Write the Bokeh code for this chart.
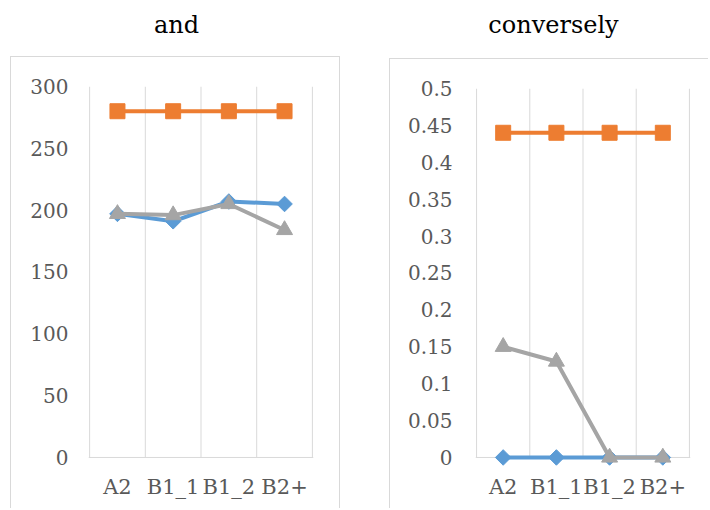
from bokeh.plotting import figure
from bokeh.layouts import row, column
from bokeh.models import FixedTicker, NumeralTickFormatter, Range1d, Label, Span
from bokeh.embed import file_html
from bokeh.resources import INLINE

categories = ["A2", "B1_1", "B1_2", "B2+"]

left_title = "and"
left_blue = [197, 191, 207, 205]
left_orange = [280, 280, 280, 280]
left_gray = [197, 196, 205, 184]
left_ticks = [0, 50, 100, 150, 200, 250, 300]

right_title = "conversely"
right_blue = [0, 0, 0, 0]
right_orange = [0.44, 0.44, 0.44, 0.44]
right_gray = [0.15, 0.13, 0, 0]
right_ticks = [0, 0.05, 0.1, 0.15, 0.2, 0.25, 0.3, 0.35, 0.4, 0.45, 0.5]

BLUE = "#5B9BD5"
ORANGE = "#ED7D31"
GRAY = "#A5A5A5"
GRID = "#D9D9D9"
LABEL = "#595959"
FONT = "DejaVu Serif"


def title_fig(text, col_x, width, height, mbl, mbr, center_x, baseline_from_top):
    # the column aligns this figure's frame with the chart frame below it,
    # so the x range is expressed in page pixels of that frame
    t = figure(width=width, height=height,
               x_range=Range1d(col_x + mbl, col_x + width - mbr), y_range=Range1d(0, height),
               x_axis_location=None, y_axis_location=None, toolbar_location=None,
               output_backend="svg", min_border=0, min_border_left=0, min_border_right=0,
               min_border_top=0, min_border_bottom=0, outline_line_color=None, title=None)
    t.grid.visible = False
    t.add_layout(Label(x=center_x, y=height - baseline_from_top, text=text,
                       text_align="center", text_baseline="alphabetic",
                       text_font=FONT, text_font_size="24px", text_color="black"))
    return t


def chart(blue, orange, gray, ticks, ymax, pad, width, height, mbl, mbr, mbt, mbb,
          margin, styles, ystandoff, fmt=None):
    n = len(categories)
    xs = [i + 0.5 for i in range(n)]
    p = figure(width=width, height=height,
               x_range=Range1d(-0.02, n + 0.02), y_range=Range1d(-pad, ymax),
               toolbar_location=None, output_backend="svg",
               min_border_left=mbl, min_border_right=mbr,
               min_border_top=mbt, min_border_bottom=mbb,
               outline_line_color=None, margin=margin, styles=styles)
    p.xgrid.visible = False
    p.ygrid.visible = False

    bounds = list(range(n + 1))
    p.segment(x0=bounds, y0=[0] * len(bounds), x1=bounds, y1=[ymax] * len(bounds),
              line_color=GRID, line_width=1)
    p.add_layout(Span(location=0, dimension="width", line_color=GRID, line_width=1,
                      level="underlay"))

    p.line(xs, blue, line_color=BLUE, line_width=4)
    p.scatter(xs, blue, marker="square", angle=0.785398, size=11,
              fill_color=BLUE, line_color=BLUE)
    p.line(xs, orange, line_color=ORANGE, line_width=4)
    p.scatter(xs, orange, marker="square", size=15, fill_color=ORANGE, line_color=ORANGE)
    p.line(xs, gray, line_color=GRAY, line_width=4)
    p.scatter(xs, gray, marker="triangle", size=16, fill_color=GRAY, line_color=GRAY)

    p.xaxis.ticker = FixedTicker(ticks=xs)
    p.xaxis.major_label_overrides = {x: c for x, c in zip(xs, categories)}
    p.xaxis.axis_line_color = None
    p.xaxis.major_tick_line_color = None
    p.xaxis.minor_tick_line_color = None
    p.xaxis.major_tick_out = 0
    p.xaxis.major_label_standoff = 7
    p.xaxis.major_label_text_font = FONT
    p.xaxis.major_label_text_font_size = "21px"
    p.xaxis.major_label_text_color = LABEL

    p.yaxis.ticker = FixedTicker(ticks=ticks)
    if fmt is not None:
        p.yaxis.formatter = fmt
    p.yaxis.axis_line_color = None
    p.yaxis.major_tick_line_color = None
    p.yaxis.minor_tick_line_color = None
    p.yaxis.major_tick_out = 0
    p.yaxis.major_label_standoff = ystandoff
    p.yaxis.major_label_text_font = FONT
    p.yaxis.major_label_text_font_size = "20px"
    p.yaxis.major_label_text_color = LABEL
    return p


border = "1px solid " + GRID

L_W, L_MBL, L_MBR = 345, 77, 28
R_X, R_W, R_MBL, R_MBR = 345, 363, 85, 19

lt = title_fig(left_title, 0, L_W, 56, L_MBL, L_MBR, 176, 24)
lc = chart(left_blue, left_orange, left_gray, left_ticks, 300, 8.1,
           330, 452, L_MBL, L_MBR, 29, 42, (0, 0, 0, 10),
           {"border-top": border, "border-left": border, "border-right": border}, 20)

rt = title_fig(right_title, R_X, R_W, 58, R_MBL, R_MBR, 553, 24)
rc = chart(right_blue, right_orange, right_gray, right_ticks, 0.5, 0.0136,
           319, 450, R_MBL, R_MBR, 29, 42, (0, 0, 0, 44),
           {"border-top": border, "border-left": border}, 23,
           NumeralTickFormatter(format="0.[00]"))

layout = row(column(lt, lc), column(rt, rc))

open("out.html", "w").write(file_html(layout, INLINE))
